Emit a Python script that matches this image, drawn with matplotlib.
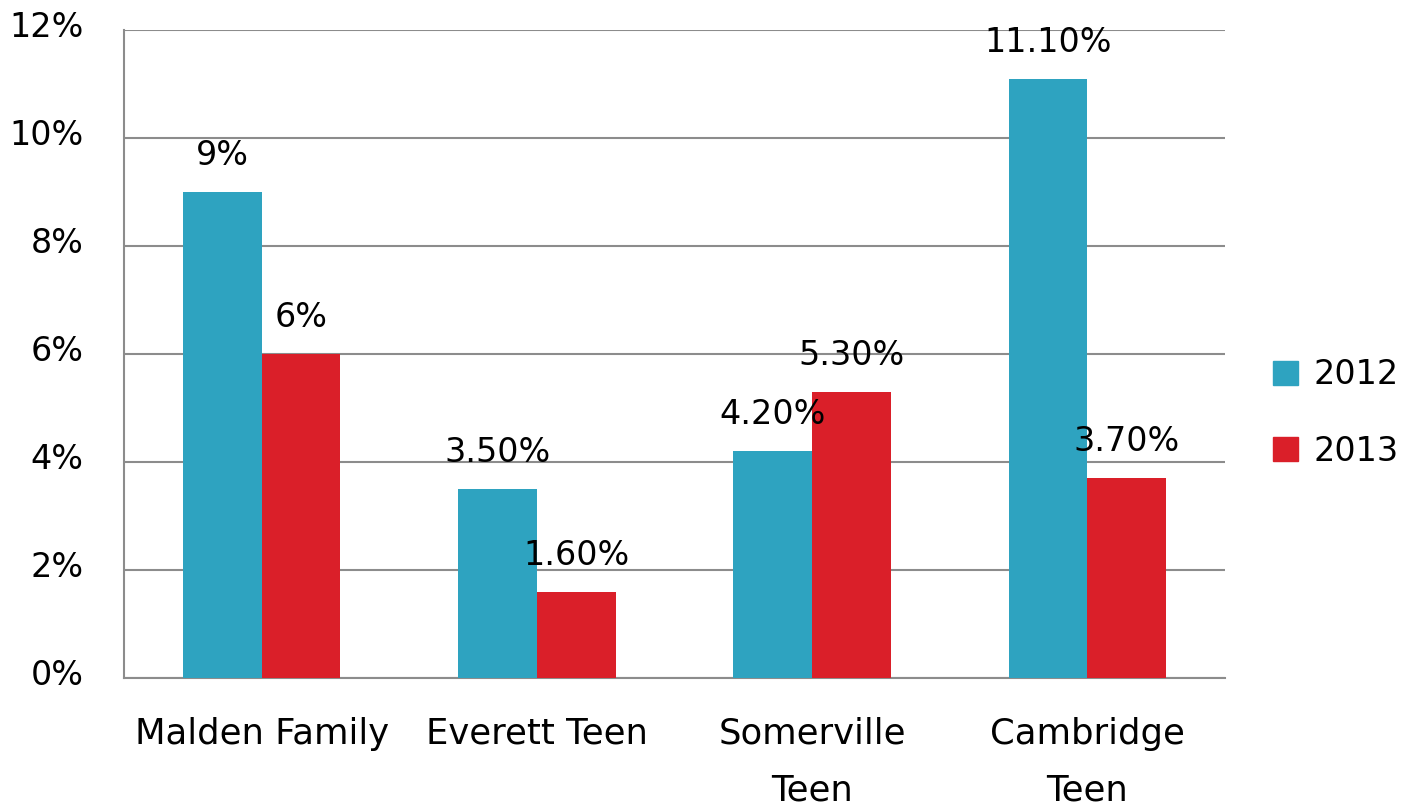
import matplotlib
matplotlib.use("Agg")
import matplotlib.pyplot as plt
import matplotlib.transforms as mtransforms
from matplotlib.patches import Patch
import numpy as np

categories = ["Malden Family", "Everett Teen", "Somerville\nTeen", "Cambridge\nTeen"]
series_names = ["2012", "2013"]
values_2012 = [9.0, 3.5, 4.2, 11.1]
values_2013 = [6.0, 1.6, 5.3, 3.7]
labels_2012 = ["9%", "3.50%", "4.20%", "11.10%"]
labels_2013 = ["6%", "1.60%", "5.30%", "3.70%"]
yticks = [0, 2, 4, 6, 8, 10, 12]
ytick_labels = ["0%", "2%", "4%", "6%", "8%", "10%", "12%"]

c2012 = "#2EA3C0"
c2013 = "#DA1F29"
grid_c = "#8C8C8C"

plt.rcParams['font.family'] = ['DejaVu Sans']
FS = 24

fig = plt.figure(figsize=(14.1, 8.08), dpi=100)
ax = fig.add_axes([124/1410, 1-678/808, (1225-124)/1410, (678-30)/808])

x = np.arange(len(categories))
w = 0.286
ax.bar(x - w/2, values_2012, w, color=c2012, zorder=3)
ax.bar(x + w/2, values_2013, w, color=c2013, zorder=3)

for xi, v, lab in zip(x - w/2, values_2012, labels_2012):
    ax.annotate(lab, (xi, v), xytext=(0, 20), textcoords="offset pixels",
                ha="center", va="bottom", fontsize=FS, zorder=4)
for xi, v, lab in zip(x + w/2, values_2013, labels_2013):
    ax.annotate(lab, (xi, v), xytext=(0, 20), textcoords="offset pixels",
                ha="center", va="bottom", fontsize=FS, zorder=4)

ax.set_xlim(-0.5, len(categories) - 0.5)
ax.set_ylim(0, 12)
ax.set_yticks(yticks)
ax.set_yticklabels(ytick_labels, fontsize=FS)
ax.set_xticks(x)
ax.set_xticklabels(categories, fontsize=25.5, linespacing=1.85)
ax.tick_params(axis="both", length=0)
ax.tick_params(axis="y", pad=29)
ax.tick_params(axis="x", pad=28)
shift = mtransforms.ScaledTranslation(0, 6/100, fig.dpi_scale_trans)
for lab in ax.get_yticklabels():
    lab.set_va("center_baseline")
    lab.set_transform(lab.get_transform() + shift)
ax.yaxis.grid(True, color=grid_c, linewidth=1.5, zorder=0)
for s in ["top", "right"]:
    ax.spines[s].set_visible(False)
ax.spines["left"].set_color(grid_c)
ax.spines["left"].set_linewidth(1.5)
ax.spines["bottom"].set_color(grid_c)
ax.spines["bottom"].set_linewidth(1.5)

handles = [Patch(color=c2012), Patch(color=c2013)]
fig.legend(handles, series_names, loc="center left",
           bbox_to_anchor=(1273/1410, 1-413/808), frameon=False,
           borderpad=0, borderaxespad=0,
           fontsize=FS, handlelength=0.75, handleheight=0.75,
           handletextpad=0.45, labelspacing=1.3)

fig.savefig("out.png", dpi=100)
